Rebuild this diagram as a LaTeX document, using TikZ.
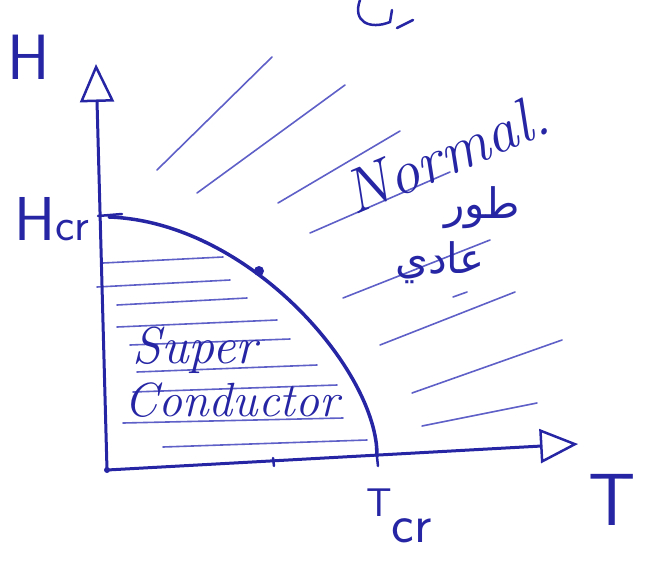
\documentclass[tikz,border=0pt]{standalone}
\usepackage{fontspec}
\usetikzlibrary{arrows.meta}
\newfontfamily\arabe[Script=Arabic]{DejaVu Sans}
\TeXXeTstate=1
\definecolor{encre}{RGB}{38,38,165}
\definecolor{encreclaire}{RGB}{95,95,200}
\begin{document}
\begin{tikzpicture}[
    x=1pt, y=-1pt,
    axe/.style={draw=encre, line width=3pt, line cap=round,
                -{Triangle[open, length=38pt, width=34pt, line width=2.5pt]}},
    courbe/.style={draw=encre, line width=3.5pt, line cap=round},
    hachure/.style={draw=encreclaire, line width=1.6pt, line cap=round},
    trait/.style={draw=encre, line width=2.5pt, line cap=round},
    etiquette/.style={text=encre, inner sep=0pt}
]
    \useasboundingbox (0,0) rectangle (652,562);

    \coordinate (o) at (107,470);
    \coordinate (hmax) at (96,64);
    \coordinate (tmax) at (578,444);
    \coordinate (hcr) at (109,217);
    \coordinate (tcr) at (377,456);

    % hachures, region supraconductrice
    \draw[hachure] (103,263) -- (223,257) (97,287) -- (230,280)
                   (117,305) -- (247,298) (117,327) -- (277,320)
                   (130,345) -- (290,339) (137,372) -- (317,365)
                   (133,392) -- (337,385) (123,423) -- (343,418)
                   (163,447) -- (367,440);
    % hachures, region normale
    \draw[hachure] (157,170) -- (272,57) (197,193) -- (345,85)
                   (278,203) -- (400,131) (310,233) -- (450,172)
                   (343,298) -- (490,240) (380,345) -- (515,292)
                   (412,393) -- (562,340) (422,426) -- (537,403)
                   (453,297) -- (467,292);

    \draw[axe] (o) -- (hmax);
    \draw[axe] (o) -- (tmax);
    \draw[courbe] (hcr) .. controls (250,222) and (378,372) .. (tcr);

    \draw[trait] (98,216) -- (122,214);
    \draw[trait] (376,448) -- (378,466);
    \draw[trait] (273,458) -- (274,466);
    \fill[encre] (259,271) circle (5pt);
    \fill[encre] (107,470) circle (3pt);

    % fragment en haut
    \draw[trait] (360,0) .. controls (352,22) and (370,30) .. (390,22) -- (392,10);
    \draw[trait] (397,28) -- (413,20);

    \node[etiquette, font=\sffamily\fontsize{64}{64}\selectfont] (h) at (29,57) {H};
    \node[etiquette, font=\sffamily\fontsize{74}{74}\selectfont] (t) at (612,500) {T};
    \node[etiquette, anchor=base west] (hcrtxt) at (14,240)
        {\sffamily\fontsize{62}{62}\selectfont H\fontsize{46}{46}\selectfont cr};
    \node[etiquette, anchor=base west] (tcrtxt) at (366,516)
        {\sffamily\fontsize{40}{40}\selectfont T\raisebox{-26pt}{\fontsize{54}{54}\selectfont cr}};
    \node[etiquette, font=\itshape\fontsize{52}{52}\selectfont] (super) at (195,350) {Super};
    \node[etiquette, font=\itshape\fontsize{48}{48}\selectfont] (cond) at (232,400) {Conductor};
    \node[etiquette, font=\itshape\fontsize{62}{62}\selectfont, rotate=23] (normal) at (446,154) {Normal.};
    \node[etiquette, font=\arabe\fontsize{42}{42}\selectfont] (ar1) at (482,208) {\beginR طور\endR};
    \node[etiquette, font=\arabe\fontsize{42}{42}\selectfont] (ar2) at (440,263) {\beginR عادي\endR};
\end{tikzpicture}
\end{document}
